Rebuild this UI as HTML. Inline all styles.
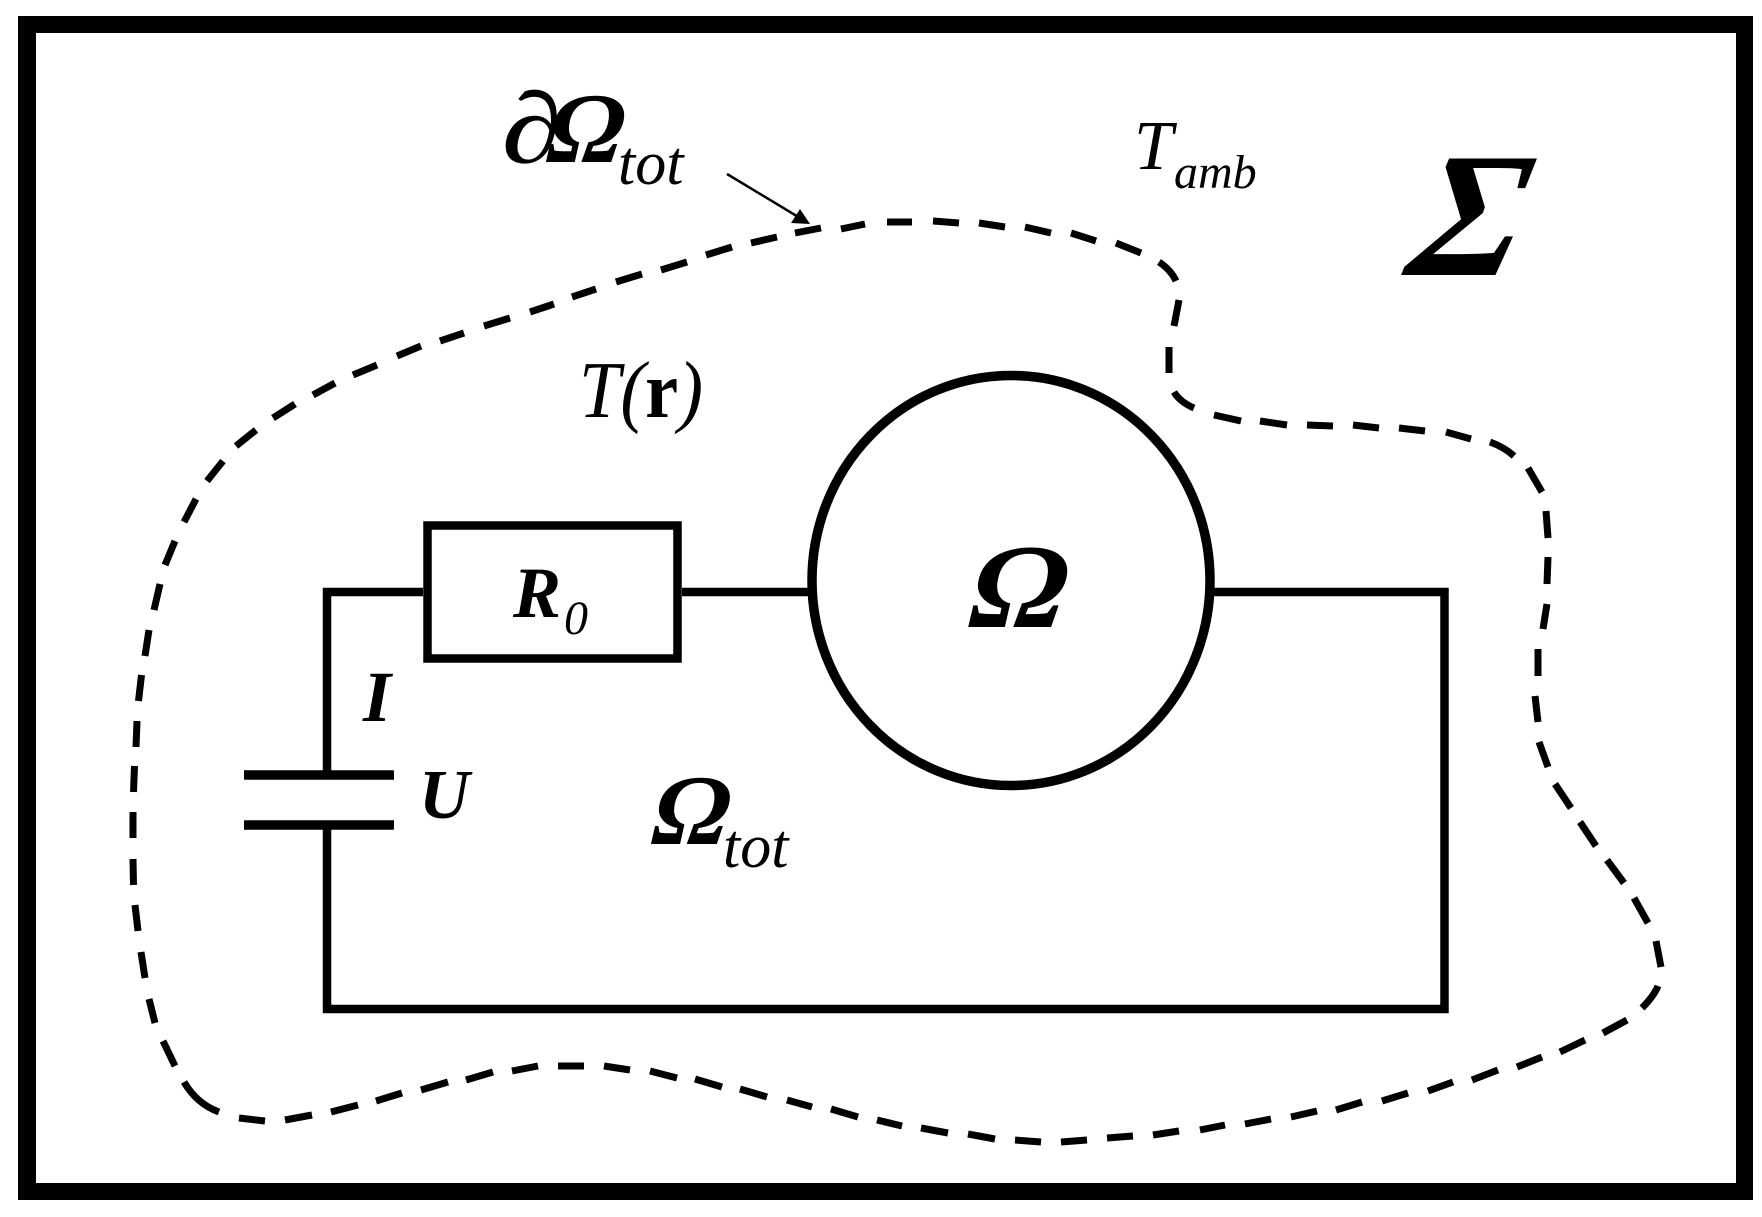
<!DOCTYPE html>
<html>
<head>
<meta charset="utf-8">
<style>
html,body{margin:0;padding:0;background:#fff;width:1762px;height:1217px;overflow:hidden}
svg{display:block}
text{font-family:"Liberation Serif","DejaVu Serif",serif;font-style:italic;fill:#000}
.b{font-weight:bold}
</style>
</head>
<body>
<svg width="1762" height="1217" viewBox="0 0 1762 1217" xmlns="http://www.w3.org/2000/svg">
<rect width="1762" height="1217" fill="#fff"/>
<path fill-rule="evenodd" fill="#000" d="M18 16H1753V1200H18ZM36 33V1183H1736V33Z"/>

<g fill="none" stroke="#000" stroke-width="8.500">
<path d="M327 775V592H423M682 592H809M1213 592H1444.500V1009H327V825"/>
<rect x="427.500" y="525.500" width="250" height="133"/>
<ellipse cx="1011" cy="580.500" rx="199" ry="205" stroke-width="9.500"/>
</g>
<path d="M244 775H394M244 825H394" fill="none" stroke="#000" stroke-width="9.500"/>

<g fill="none" stroke="#000" stroke-width="7">
<path d="M821 228L795 233M777 237L751 243M732 247L706 255M687 262L661 270M642 274L616 282M596 289L572 297M554 304L530 312M510 318L484 326M464 333L440 341M421 346L397 356M377 365L353 375M335 383L313 395M295 404L273 418M256 430L236 446M223 461L207 481M196 499L184 522M175 541L165 565M160 584L154 610M149 630L145 656M141.500 675L138.500 701M137 721L136 747M134.500 766L133.500 792M133 812L133 838M133 859L133.500 885M135 905L138 931M141 952L145 978M149 999L155 1023M163 1041L175 1066"/>
<path d="M184 1082Q197 1104 219 1112"/>
<path d="M239 1118L265 1121M285 1120L312 1115M331 1112L358 1105M376 1101L402 1093M421 1090L448 1082M466 1080L493 1072M512 1071L538 1066M558 1066L584 1066M604 1066L630 1070M650 1071L677 1078M695 1079L722 1087M740 1089L767 1097M787 1100L812 1107M831 1109L858 1117M877 1120L902 1126M921 1128L948 1133M968 1134L995 1139M1015 1140L1041 1142M1061 1142L1087 1140M1107 1138L1133 1136M1153 1135L1179 1131M1200 1130L1225 1125M1245 1124L1271 1119M1291 1117L1317 1111M1336 1110L1362 1102M1382 1101L1408 1093M1428 1091L1453 1082M1472 1080L1498 1070M1517 1067L1542 1057M1560 1052L1585 1040M1603 1033L1627 1020"/>
<path d="M1642 1008Q1654 996 1658 986"/>
<path d="M1661 967L1656 941M1648 923L1634 898M1624 883L1607 860M1596 846L1580 822M1571 808L1555 784M1548 767L1539 742M1538 722L1535 696M1538 676L1538 649M1543 629L1547 604M1547 584L1548 557M1548 538L1546 511M1542 492L1528 468"/>
<path d="M1514 456Q1504 447 1490 442"/>
<path d="M1471 439L1446 432M1425 431L1399 428M1379 428L1353 425M1333 426L1307 425M1287 425L1260 421M1241 421L1214 415"/>
<path d="M1194 408Q1180 402 1174 392"/>
<path d="M1169 373L1169 347M1174 326L1179 300"/>
<path d="M1176 281Q1171 270 1159 262"/>
<path d="M1141 253L1116 243M1096 241L1071 233M1051 233L1025 227M1005 227L979 223M959 223L933 221M912 222L887 222M865 224L841 229"/>
</g>

<path d="M727 174L800 218" fill="none" stroke="#000" stroke-width="2.500"/>
<path d="M810 224L791 223L800 209Z" fill="#000"/>

<text transform="translate(502,162) scale(1.2,1)" font-size="100" stroke="#000" stroke-width="0.600">∂</text>
<text transform="translate(545,162) skewX(-6) scale(1.02,1)" font-size="100" class="b">Ω</text>
<text x="618" y="184" font-size="62">tot</text>

<text x="579" y="417" font-size="80" textLength="124" lengthAdjust="spacingAndGlyphs">T(<tspan class="b" style="font-style:normal">r</tspan>)</text>

<text x="1134" y="169" font-size="70">T</text>
<text x="1174" y="188" font-size="48">amb</text>

<text transform="translate(1404,275) skewX(-12)" font-size="178" class="b">Σ</text>
<text transform="translate(967,627) skewX(-6) scale(1.08,1)" font-size="120" class="b">Ω</text>
<text transform="translate(650,844) skewX(-6) scale(1.03,1)" font-size="100" class="b">Ω</text>
<text x="723" y="867" font-size="62">tot</text>

<text x="513" y="617" font-size="72" class="b">R</text>
<text x="564" y="634" font-size="48">0</text>
<text x="363" y="721" font-size="72" class="b">I</text>
<text x="419" y="818" font-size="70" class="b">U</text>
</svg>
</body>
</html>
